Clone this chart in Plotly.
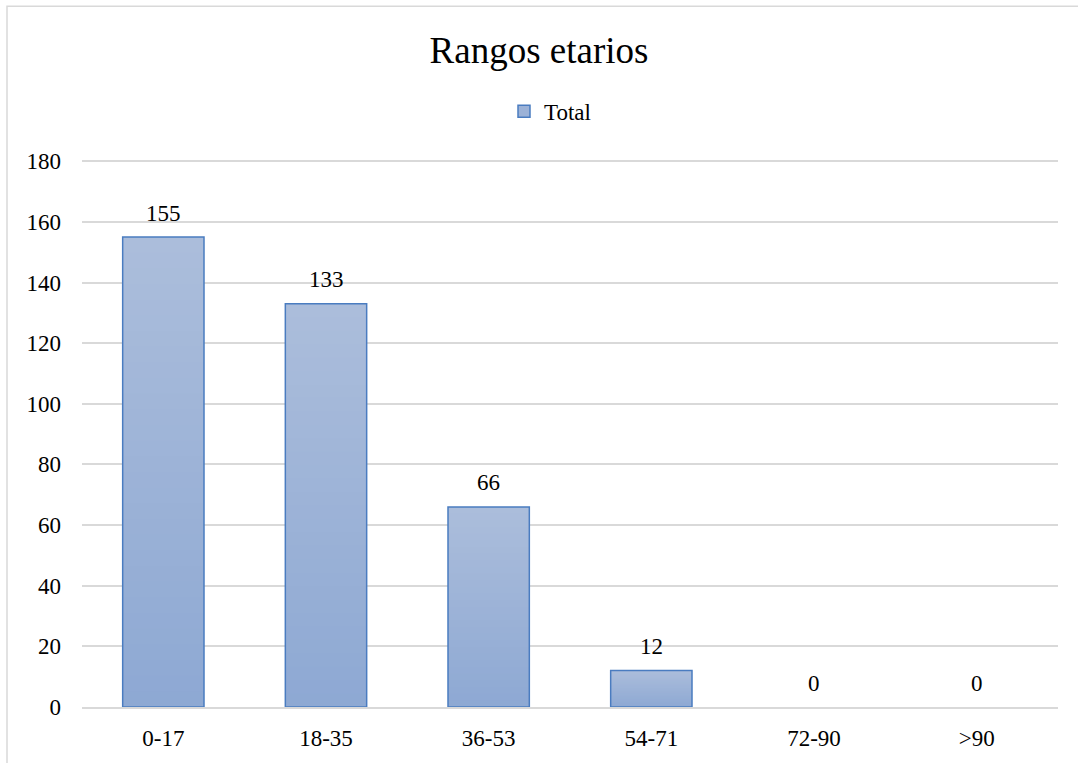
import plotly.graph_objects as go

# Age ranges and counts
categories = ["0-17", "18-35", "36-53", "54-71", "72-90", ">90"]
totals = [155, 133, 66, 12, 0, 0]
series_name = "Total"
chart_title = "Rangos etarios"
y_ticks = [0, 20, 40, 60, 80, 100, 120, 140, 160, 180]

FONT = "Liberation Serif, Times New Roman, serif"
TOP_RGB = (171, 189, 219)
BOTTOM_RGB = (141, 168, 211)
OUTLINE = "#4A7CC0"
GRID = "#D9D9D9"
N_STEPS = 30
BAR_WIDTH = 0.5
Y_MAX = 180.4
PLOT_H = 546 * Y_MAX / 180

fig = go.Figure()

# Vertical gradient fill: overlaid bars, tallest (lightest) first
for k in range(N_STEPS, 0, -1):
    t = k / N_STEPS
    r, g, b = (round(BOTTOM_RGB[i] + (TOP_RGB[i] - BOTTOM_RGB[i]) * t) for i in range(3))
    fig.add_trace(go.Bar(
        x=categories,
        y=[v * t for v in totals],
        width=BAR_WIDTH,
        marker=dict(color=f"rgb({r},{g},{b})", line=dict(width=0)),
        showlegend=False,
        hoverinfo="skip",
    ))

# Outline around each non-empty bar
fig.add_trace(go.Bar(
    x=categories,
    y=totals,
    width=BAR_WIDTH,
    marker=dict(
        color="rgba(0,0,0,0)",
        line=dict(color=OUTLINE, width=[1.5 if v > 0 else 0 for v in totals]),
    ),
    showlegend=False,
    name=series_name,
))

# Legend entry
fig.add_trace(go.Bar(
    x=[categories[0]],
    y=[None],
    name=series_name,
    marker=dict(color="rgb(156,178,215)", line=dict(color=OUTLINE, width=1.5)),
    showlegend=True,
))

# Value labels above the bars
annotations = [
    dict(x=c, y=v, text=str(v), showarrow=False, yshift=24,
         xanchor="center", yanchor="middle",
         font=dict(family=FONT, size=23, color="#000000"))
    for c, v in zip(categories, totals)
]

fig.update_layout(
    width=1078,
    height=763,
    barmode="overlay",
    plot_bgcolor="white",
    paper_bgcolor="white",
    margin=dict(l=82, r=20, t=round(707 - PLOT_H), b=56),
    title=dict(
        text=chart_title,
        x=0.5, xanchor="center",
        y=1 - 50 / 763, yanchor="middle",
        font=dict(family=FONT, size=37, color="#000000"),
    ),
    legend=dict(
        orientation="h",
        x=0.5 - 20 / 976, xanchor="center",
        y=1 + (707 - PLOT_H - 111) / PLOT_H * -1 + 0, yanchor="middle",
        font=dict(family=FONT, size=23, color="#000000"),
        bgcolor="rgba(0,0,0,0)",
        itemwidth=30,
    ),
    annotations=annotations,
    xaxis=dict(
        showgrid=False,
        showline=True,
        linecolor=GRID,
        linewidth=1.5,
        ticks="",
        tickfont=dict(family=FONT, size=23, color="#000000"),
        ticklabelstandoff=10,
    ),
    yaxis=dict(
        range=[0, Y_MAX],
        tickvals=y_ticks,
        showgrid=True,
        gridcolor=GRID,
        gridwidth=1.5,
        zeroline=False,
        showline=False,
        ticks="",
        tickfont=dict(family=FONT, size=23, color="#000000"),
        ticklabelstandoff=20,
    ),
    shapes=[dict(
        type="rect", xref="paper", yref="paper",
        x0=(7 - 82) / 976, x1=1.2,
        y0=-0.3, y1=1 + (707 - PLOT_H - 6) / PLOT_H,
        line=dict(color=GRID, width=1.5),
        fillcolor="rgba(0,0,0,0)",
        layer="below",
    )],
)

# Legend centre sits at y = 111 px from the top of the page
fig.layout.legend.y = 1 + ((707 - PLOT_H) - 111) / PLOT_H

fig.write_html("out.html")
